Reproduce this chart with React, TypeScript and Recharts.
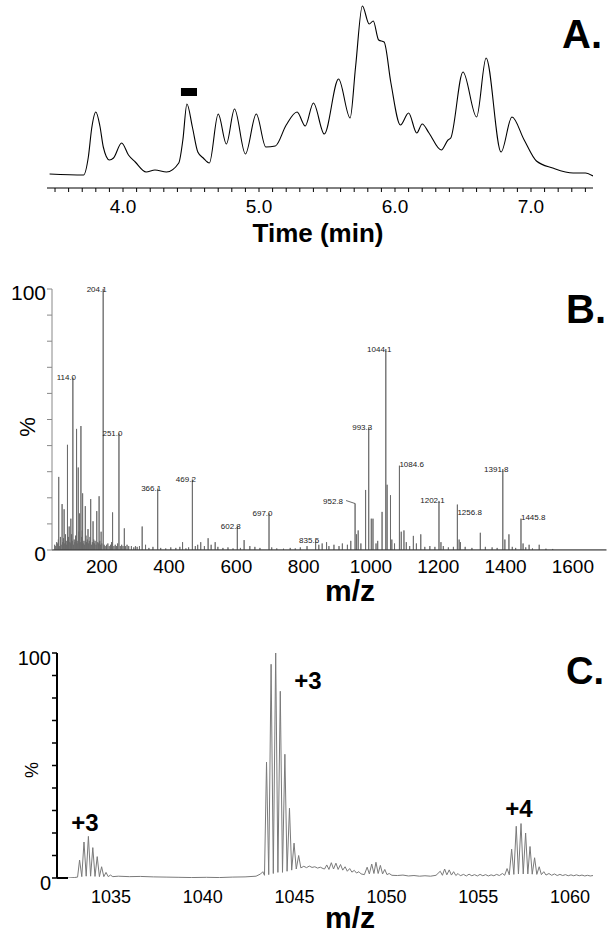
import React from "react";
import {
  LineChart,
  Line,
  XAxis,
  YAxis,
  ReferenceArea,
  ReferenceLine,
  LabelList,
} from "recharts";

const FONT = "'Liberation Sans', Arial, Helvetica, sans-serif";

// ---- Panel A: chromatogram (time in min, relative signal) ----
const ticTime = [
  3.46, 3.71, 3.745, 3.77, 3.8, 3.83, 3.855, 3.9, 3.93, 3.99, 4.04, 4.09, 4.17,
  4.235, 4.32, 4.41, 4.44, 4.47, 4.51, 4.55, 4.59, 4.635, 4.7, 4.76, 4.82, 4.9,
  4.98, 5.05, 5.12, 5.2, 5.28, 5.34, 5.4, 5.48, 5.585, 5.67, 5.71, 5.76, 5.81,
  5.84, 5.88, 5.92, 5.97, 6.04, 6.1, 6.16, 6.2, 6.25, 6.34, 6.39, 6.41, 6.5,
  6.6, 6.67, 6.78, 6.86, 6.95, 7.04, 7.16, 7.31, 7.4, 7.456,
];
const ticSignal = [
  14, 13, 31, 60, 76, 62, 41, 28, 30, 45, 33, 26, 16, 18, 16, 25, 48, 84, 61,
  36, 30, 25, 74, 44, 79, 34, 74, 41, 42, 63, 76, 62, 85, 54, 109, 70, 121, 182,
  164, 167, 148, 146, 105, 63, 75, 55, 64, 55, 38, 48, 50, 116, 71, 130, 36, 71,
  48, 27, 20, 15, 15, 12,
];
const timeLabels = [4, 5, 6, 7];
const markedWindow = [4.426, 4.544];

// ---- Panel B: full MS spectrum, sticks [m/z, %] ----
const bLabeled: [number, number][] = [
  [114.0, 66], [204.1, 100], [251.0, 44.6], [366.1, 23.5], [469.2, 27],
  [602.8, 9], [697.0, 14], [835.5, 3.8], [952.8, 17.8], [993.3, 47],
  [1044.1, 77], [1084.6, 32.3], [1202.1, 18.8], [1256.8, 17.4],
  [1391.8, 31], [1445.8, 12],
];
const bMinor: [number, number][] = [
  [72, 28], [82, 17.6], [88, 15.6], [98, 40.3], [103, 9], [108, 12],
  [125, 46.4], [130, 31.6], [134, 14], [138, 47.5], [143, 21.7], [151, 16.8],
  [159, 8], [167, 19.5], [174, 11], [185, 14.9], [192, 20.6], [198, 7],
  [232, 14.4], [267, 8.3], [320, 9], [440, 3], [494, 3], [516, 4.5],
  [537, 3], [623, 3.8], [868, 3], [957, 6], [962, 7.5], [984, 23],
  [1001, 12], [1006, 12], [1033, 14.6], [1048, 25], [1058, 21], [1090, 7],
  [1098, 7.5], [1126, 5.4], [1148, 6], [1208, 3], [1262, 4], [1266, 3],
  [1325, 6.6], [1398, 4], [1410, 6], [1452, 2.5], [1470, 2], [1500, 2],
];
const bNoiseLow: [number, number][] = [
  [60, 2], [63, 1.5], [66, 3], [69, 2.5], [71, 4], [75, 1.5], [77, 5], [79, 2],
  [84, 3], [86, 4.5], [90, 2.5], [92, 6], [94, 3.5], [96, 2], [101, 5], [105, 3],
  [107, 2.5], [110, 6], [112, 3.5], [116, 2], [118, 4], [120, 3], [122, 5.5],
  [127, 2.5], [129, 3.5], [132, 7], [136, 3], [140, 5], [142, 7.5], [145, 2.5],
  [147, 3.5], [149, 2], [153, 5.5], [155, 3], [157, 4], [161, 2.5], [163, 3.5],
  [165, 5], [170, 2], [172, 3], [176, 4], [178, 2.5], [180, 3.5], [183, 2],
  [188, 3], [190, 2.5], [194, 3.5], [196, 2], [200, 2.5], [207, 2], [210, 1.5],
  [214, 2], [218, 2.5], [222, 1.5], [226, 2], [229, 3], [236, 1.5], [240, 2],
  [244, 1.5], [247, 2.5], [255, 1.5], [259, 2], [263, 1.5], [270, 1.5],
  [275, 2], [280, 1.5], [288, 1.5], [295, 1], [300, 1.5],
];
const bNoiseHigh: [number, number][] = [
  [305, 1.2], [312, 1.5], [330, 2], [340, 0.8], [352, 1.2], [375, 0.8],
  [390, 0.6], [405, 1], [420, 0.8], [432, 1.2], [450, 0.6], [458, 1],
  [478, 1.5], [485, 2], [505, 1.5], [525, 2], [545, 1.2], [560, 0.8],
  [575, 1], [590, 0.6], [612, 0.8], [640, 1.5], [655, 1.2], [670, 0.8],
  [705, 1], [720, 0.6], [740, 0.5], [760, 0.8], [775, 0.6], [790, 1],
  [810, 1.5], [845, 2], [855, 2.5], [875, 1.5], [890, 2], [905, 1.5],
  [915, 2.5], [930, 2], [940, 3.5], [970, 2.5], [1015, 2.5], [1020, 3.5],
  [1062, 4], [1070, 2.5], [1105, 3], [1115, 1.5], [1135, 2.5], [1160, 1.2],
  [1175, 1.5], [1190, 1.2], [1215, 1.5], [1230, 1], [1245, 1.2], [1280, 1.2],
  [1300, 0.8], [1340, 1.2], [1360, 1], [1375, 0.8], [1420, 1.2], [1430, 0.8],
  [1460, 1], [1480, 0.6], [1520, 0.5], [1540, 0.4],
];
const mzTicksB = [200, 400, 600, 800, 1000, 1200, 1400, 1600];
const pctTicks = [0, 10, 20, 30, 40, 50, 60, 70, 80, 90, 100];

// ---- Panel C: zoomed profile [m/z, %] ----
const cLeftCluster: [number, number][] = [
  [1032.66, 0], [1033.0, 0.2], [1033.18, 0.4], [1033.29, 8], [1033.41, 0.6],
  [1033.53, 16], [1033.65, 0.8], [1033.77, 18.5], [1033.89, 0.8],
  [1034.01, 13.5], [1034.13, 0.7], [1034.25, 9.5], [1034.37, 0.6],
  [1034.49, 5], [1034.61, 0.6], [1034.73, 2.5], [1034.85, 0.6], [1034.97, 1.3],
  [1035.1, 0.6],
];
const cGap: [number, number][] = [
  [1035.4, 0.8], [1036, 0.6], [1036.6, 0.7], [1037.3, 0.5], [1038, 0.4],
  [1038.7, 0.3], [1039.4, 0.2], [1040.2, 0.3], [1040.9, 0.2], [1041.6, 0.4],
  [1042.3, 0.5], [1042.9, 0.8], [1043.15, 1.8], [1043.27, 2.8], [1043.36, 1.2],
];
const cMainCluster: [number, number][] = [
  [1043.47, 51.5], [1043.59, 1.5], [1043.72, 95], [1043.84, 2], [1043.97, 100],
  [1044.09, 2.5], [1044.22, 83], [1044.34, 2.5], [1044.47, 55], [1044.59, 3],
  [1044.72, 31], [1044.84, 3.5], [1044.97, 15.5], [1045.09, 4], [1045.22, 10],
  [1045.34, 4.5],
];
const cMiddle: [number, number][] = [
  [1045.5, 5.2], [1045.65, 4.6], [1045.8, 5.3], [1045.95, 4.7], [1046.1, 5],
  [1046.25, 4.4], [1046.4, 4.8], [1046.55, 4.2], [1046.63, 4], [1046.75, 5.8],
  [1046.87, 3.8], [1047.0, 6.8], [1047.12, 4], [1047.25, 6.6], [1047.37, 3.8],
  [1047.5, 6], [1047.62, 3.5], [1047.75, 5], [1047.87, 3], [1048.0, 4.2],
  [1048.12, 2.6], [1048.25, 3.4], [1048.37, 2.2], [1048.5, 2.8], [1048.62, 1.8],
  [1048.8, 1.5], [1048.95, 4.8], [1049.07, 1.8], [1049.2, 6.2], [1049.32, 2],
  [1049.43, 7], [1049.55, 2], [1049.67, 5.6], [1049.79, 1.8], [1049.91, 3.8],
  [1050.03, 1.5], [1050.15, 2], [1050.3, 1.2], [1050.6, 1.1], [1050.9, 1.3],
  [1051.2, 0.9], [1051.5, 1.1], [1051.8, 0.8], [1052.1, 1], [1052.4, 0.8],
  [1052.7, 1.2], [1052.93, 3], [1053.05, 1.2], [1053.17, 4], [1053.29, 1.4],
  [1053.42, 3.6], [1053.54, 1.3], [1053.66, 2.8], [1053.78, 1.1], [1053.9, 2],
  [1054.02, 1], [1054.2, 1.6], [1054.35, 0.9], [1054.5, 1.7], [1054.65, 1],
  [1054.8, 1.5], [1054.95, 0.9], [1055.1, 1.6], [1055.25, 1], [1055.4, 1.5],
  [1055.55, 0.9], [1055.7, 1.4], [1055.85, 1], [1056.0, 1.6], [1056.15, 1.1],
  [1056.32, 2], [1056.44, 1.2],
];
const cRightCluster: [number, number][] = [
  [1056.57, 4.2], [1056.69, 1.4], [1056.82, 12.8], [1056.94, 1.6],
  [1057.07, 23], [1057.19, 1.8], [1057.33, 24.2], [1057.45, 1.8], [1057.58, 20],
  [1057.7, 1.8], [1057.82, 14], [1057.94, 1.7], [1058.07, 9], [1058.19, 1.6],
  [1058.32, 5], [1058.44, 1.5], [1058.57, 2.8], [1058.69, 1.3], [1058.85, 2],
  [1059.0, 1.2], [1059.15, 1.8], [1059.3, 1.1], [1059.45, 1.6], [1059.6, 1.1],
  [1059.75, 1.5], [1059.9, 1], [1060.05, 1.4], [1060.2, 1], [1060.35, 1.4],
  [1060.5, 1], [1060.65, 1.3], [1060.8, 0.9], [1060.95, 1.2], [1061.1, 0.9],
  [1061.25, 1.1],
];
const mzTicksC = [1035, 1040, 1045, 1050, 1055, 1060];

// label placement for panel B peak annotations
const labelPlace: Record<string, { anchor: string; dx: number; dy: number; leader?: boolean }> = {
  "1084.6": { anchor: "start", dx: 0, dy: 1 },
  "1256.8": { anchor: "start", dx: 0, dy: 10 },
  "1445.8": { anchor: "start", dx: 0, dy: 1 },
  "952.8": { anchor: "end", dx: -12, dy: 0, leader: true },
};

const ticData = ticTime.map((t, i) => ({ t, v: ticSignal[i] }));

const bData = [
  ...bLabeled.map(([mz, pct]) => ({ mz, pct, label: mz.toFixed(1) })),
  ...bMinor.map(([mz, pct]) => ({ mz, pct, label: "" })),
  ...bNoiseLow.map(([mz, pct]) => ({ mz, pct, label: "" })),
  ...bNoiseHigh.map(([mz, pct]) => ({ mz, pct, label: "" })),
]
  .sort((a, b) => a.mz - b.mz)
  .flatMap((s) => [
    { mz: s.mz, pct: 0, label: "" },
    s,
    { mz: s.mz, pct: 0, label: "" },
  ]);
const bTrace = [{ mz: 52, pct: 0, label: "" }, ...bData, { mz: 1700, pct: 0, label: "" }];

const cData = [...cLeftCluster, ...cGap, ...cMainCluster, ...cMiddle, ...cRightCluster].map(
  ([mz, pct]) => ({ mz, pct })
);

const timeTicks = Array.from({ length: 40 }, (_, i) => Math.round((3.5 + i * 0.1) * 10) / 10);

const TimeTick = ({ x, y, payload }: any) => {
  const v = payload.value;
  if (!timeLabels.includes(v)) return <g />;
  return (
    <text x={x} y={y} dy={19} textAnchor="middle" fontSize={19} fontFamily={FONT} fill="#000">
      {v.toFixed(1)}
    </text>
  );
};

const makeXTick = (size: number, dy: number) => ({ x, y, payload }: any) => (
  <text x={x} y={y} dy={dy} textAnchor="middle" fontSize={size} fontFamily={FONT} fill="#000">
    {payload.value}
  </text>
);

const makeYTick = (size: number, dy: number) => ({ x, y, payload }: any) => {
  const v = payload.value;
  if (v !== 0 && v !== 100) return <g />;
  return (
    <text x={x} y={y} dy={dy} textAnchor="end" fontSize={size} fontFamily={FONT} fill="#000">
      {v}
    </text>
  );
};

const PeakLabel = (props: any) => {
  const { x, y, value } = props;
  if (!value) return null;
  const place = labelPlace[value] ?? { anchor: "middle", dx: -6.5, dy: 2.5 };
  return (
    <g>
      {place.leader && (
        <line x1={x - 9} y1={y - 3} x2={x} y2={y} stroke="#444" strokeWidth={0.8} />
      )}
      <text
        x={x + place.dx}
        y={y + place.dy}
        textAnchor={place.anchor as any}
        fontSize={8}
        fontFamily={FONT}
        fill="#222"
      >
        {value}
      </text>
    </g>
  );
};

export default function App() {
  const txt = { fontFamily: FONT, fill: "#000" };
  return (
    <div style={{ position: "absolute", left: 0, top: 0, width: 612, height: 933, background: "#fff" }}>
      {/* A */}
      <div style={{ position: "absolute", left: 0, top: 0 }}>
        <LineChart width={612} height={260} data={ticData} margin={{ top: 3, right: 19, bottom: 0, left: 47 }}>
          <XAxis
            dataKey="t"
            type="number"
            domain={[3.441, 7.456]}
            allowDataOverflow
            ticks={timeTicks}
            interval={0}
            height={72}
            tickSize={4}
            tickMargin={2}
            axisLine={{ stroke: "#000", strokeWidth: 1 }}
            tickLine={{ stroke: "#000" }}
            tick={<TimeTick />}
          />
          <YAxis hide domain={[0, 185]} allowDataOverflow />
          <ReferenceArea
            x1={markedWindow[0]}
            x2={markedWindow[1]}
            y1={92}
            y2={100}
            fill="#000"
            fillOpacity={1}
            stroke="none"
          />
          <Line
            dataKey="v"
            type="monotone"
            stroke="#000"
            strokeWidth={1.1}
            dot={false}
            activeDot={false}
            isAnimationActive={false}
          />
        </LineChart>
      </div>

      {/* B */}
      <div style={{ position: "absolute", left: 0, top: 270 }}>
        <LineChart width={612} height={350} data={bTrace} margin={{ top: 19, right: 5.5, bottom: 0, left: 0 }}>
          <XAxis
            dataKey="mz"
            type="number"
            domain={[52, 1700]}
            allowDataOverflow
            ticks={mzTicksB}
            interval={0}
            height={70}
            tickSize={0}
            tickMargin={0}
            tickLine={false}
            axisLine={{ stroke: "#333", strokeWidth: 1 }}
            tick={makeXTick(19, 23)}
          />
          <YAxis
            type="number"
            domain={[0, 100]}
            allowDataOverflow
            ticks={pctTicks}
            interval={0}
            width={52}
            tickSize={5}
            tickMargin={1}
            axisLine={{ stroke: "#888" }}
            tickLine={{ stroke: "#888" }}
            tick={makeYTick(21, 11)}
          />
          <Line
            dataKey="pct"
            type="linear"
            stroke="#6a6a6a"
            strokeWidth={0.9}
            dot={false}
            activeDot={false}
            isAnimationActive={false}
          >
            <LabelList dataKey="label" content={<PeakLabel />} />
          </Line>
        </LineChart>
      </div>

      {/* C */}
      <div style={{ position: "absolute", left: 0, top: 620 }}>
        <LineChart width={612} height={313} data={cData} margin={{ top: 33, right: 19, bottom: 0, left: 0 }}>
          <XAxis
            dataKey="mz"
            type="number"
            domain={[1032.06, 1061.25]}
            allowDataOverflow
            ticks={mzTicksC}
            interval={0}
            height={55}
            tickSize={0}
            tickMargin={0}
            tickLine={false}
            axisLine={false}
            tick={makeXTick(18, 25)}
          />
          <YAxis
            type="number"
            domain={[0, 100]}
            allowDataOverflow
            ticks={pctTicks}
            interval={0}
            width={57}
            tickSize={5}
            tickMargin={1}
            axisLine={{ stroke: "#000", strokeWidth: 2 }}
            tickLine={{ stroke: "#000", strokeWidth: 1.5 }}
            tick={makeYTick(20, 11.5)}
          />
          <ReferenceLine
            segment={[
              { x: 1032.06, y: 0 },
              { x: 1032.66, y: 0 },
            ]}
            stroke="#000"
            strokeWidth={2}
          />
          <Line
            dataKey="pct"
            type="linear"
            stroke="#7a7a7a"
            strokeWidth={1}
            dot={false}
            activeDot={false}
            isAnimationActive={false}
          />
        </LineChart>
      </div>

      {/* titles and annotations */}
      <svg
        width={612}
        height={933}
        style={{ position: "absolute", left: 0, top: 0, pointerEvents: "none" }}
      >
        <text x={562} y={48} fontSize={40} fontWeight="bold" {...txt}>A.</text>
        <text x={318} y={242} fontSize={26} fontWeight="bold" textAnchor="middle" {...txt}>Time (min)</text>
        <text x={566} y={323} fontSize={40} fontWeight="bold" {...txt}>B.</text>
        <text transform="translate(35,427) rotate(-90)" fontSize={22} textAnchor="middle" {...txt}>%</text>
        <text x={350} y={601} fontSize={30} fontWeight="bold" textAnchor="middle" {...txt}>m/z</text>
        <text x={566} y={684} fontSize={38} fontWeight="bold" {...txt}>C.</text>
        <text transform="translate(38,770) rotate(-90)" fontSize={18} textAnchor="middle" {...txt}>%</text>
        <text x={85} y={831} fontSize={24} fontWeight="bold" textAnchor="middle" {...txt}>+3</text>
        <text x={308} y={689} fontSize={24} fontWeight="bold" textAnchor="middle" {...txt}>+3</text>
        <text x={519} y={817} fontSize={24} fontWeight="bold" textAnchor="middle" {...txt}>+4</text>
        <text x={350} y={928} fontSize={30} fontWeight="bold" textAnchor="middle" {...txt}>m/z</text>
      </svg>
    </div>
  );
}
